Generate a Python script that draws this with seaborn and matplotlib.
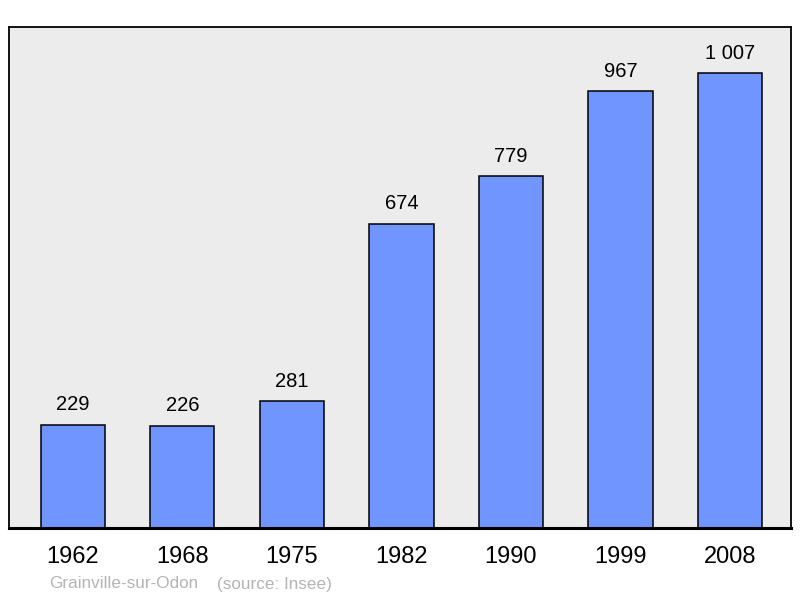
import pandas as pd
import matplotlib
matplotlib.use("Agg")
import matplotlib.pyplot as plt
import seaborn as sns

years = ["1962", "1968", "1975", "1982", "1990", "1999", "2008"]
population = [229, 226, 281, 674, 779, 967, 1007]
value_labels = ["229", "226", "281", "674", "779", "967", "1 007"]

df = pd.DataFrame({"year": years, "population": population})

sns.set_style("white")
plt.rcParams['font.family'] = ['Liberation Sans', 'DejaVu Sans']
plt.rcParams['text.color'] = 'black'
plt.rcParams['xtick.color'] = 'black'

fig = plt.figure(figsize=(8, 5.98), dpi=100)
ax = fig.add_axes([9 / 800, 1 - 528 / 598, 782 / 800, 501 / 598])
ax.set_facecolor("#ececec")

sns.barplot(data=df, x="year", y="population", color="#7095ff", saturation=1,
            width=0.585, edgecolor="black", linewidth=1.1, ax=ax)

ax.bar_label(ax.containers[0], labels=value_labels, padding=7.5, fontsize=14.5,
             color="black")

ax.set_xlim(-0.584, 6.557)
ax.set_ylim(0, 1109)
ax.set_xlabel("")
ax.set_ylabel("")
ax.set_yticks([])
ax.tick_params(axis="x", length=0, pad=13, labelsize=17, labelcolor="black")
for s in ax.spines.values():
    s.set_visible(True)
    s.set_color("black")
    s.set_linewidth(1.3)
ax.spines["bottom"].set_linewidth(2.2)

fig.text(49 / 800, 1 - 584 / 598, "Grainville-sur-Odon",
         color="#b4b4b4", fontsize=12.3, va="center", ha="left")
fig.text(217 / 800, 1 - 584 / 598, "(source: Insee)",
         color="#b4b4b4", fontsize=12.3, va="center", ha="left")

fig.savefig("out.png", dpi=100)
